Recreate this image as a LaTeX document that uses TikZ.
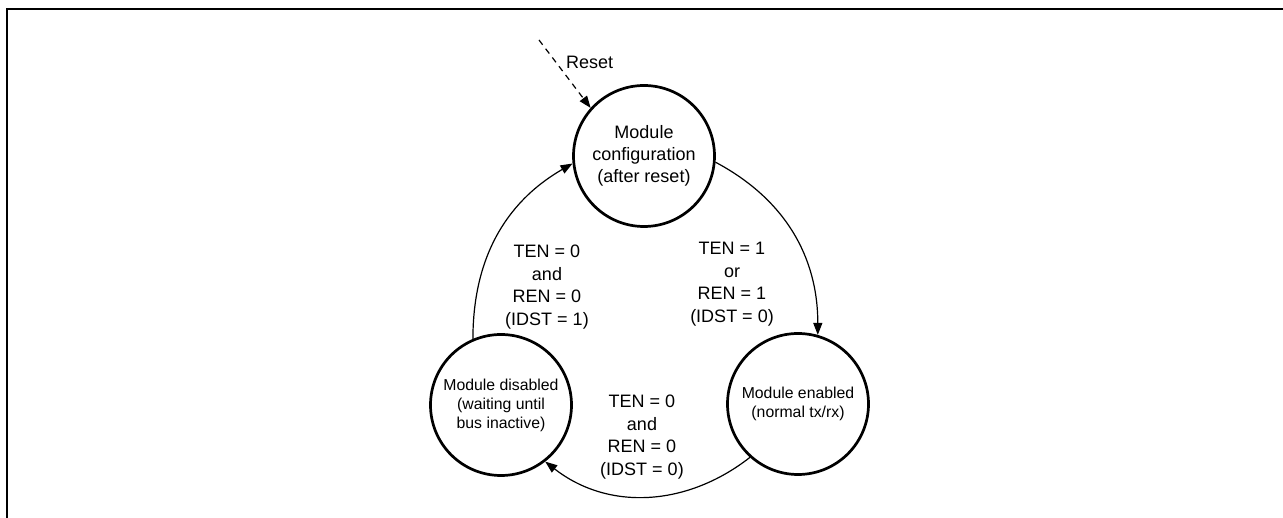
\documentclass[tikz,border=0pt]{standalone}
\usepackage{fontspec}
\setmainfont{Liberation Sans}
\usetikzlibrary{arrows.meta}
\begin{document}
\begin{tikzpicture}[x=1pt,y=1pt,
  state/.style={circle,draw,line width=2.7pt,minimum size=141pt,inner sep=0pt,align=center},
  bigtext/.style={font=\fontsize{18}{22}\selectfont},
  smalltext/.style={font=\fontsize{15.8}{19}\selectfont},
  trans/.style={line width=1.2pt,-{Triangle[length=12pt,width=9pt]}},
  lab/.style={align=center,font=\fontsize{18}{22.5}\selectfont,inner sep=0pt}]
\useasboundingbox (0,0) rectangle (1283,518);
\draw[line width=2pt] (7,0) -- (7,509) -- (1283,509);

\node[state,bigtext] (T) at (644,362) {Module\\configuration\\(after reset)};
\node[state,smalltext] (L) at (501,113) {Module disabled\\(waiting until\\bus inactive)};
\node[state,smalltext] (R) at (798,114) {Module enabled\\(normal tx/rx)};

\coordinate (rs) at (539,478);
\draw[trans,dash pattern=on 6pt off 5pt] (rs) -- (T.138);
\node[anchor=west,inner sep=0pt,font=\fontsize{18}{22}\selectfont] (resetlab) at (566,456) {Reset};

\draw[trans] (L.113) to[out=90,in=210] (T.186);
\draw[trans] (T.-5) to[out=-28,in=90] (R.74);
\draw[trans] (R.228) to[out=218,in=-38] (L.-52);

\node[lab] (l1) at (547,231) {TEN = 0\\and\\REN = 0\\(IDST = 1)};
\node[lab] (l2) at (732,234) {TEN = 1\\or\\REN = 1\\(IDST = 0)};
\node[lab] (l3) at (642,81) {TEN = 0\\and\\REN = 0\\(IDST = 0)};
\end{tikzpicture}
\end{document}
